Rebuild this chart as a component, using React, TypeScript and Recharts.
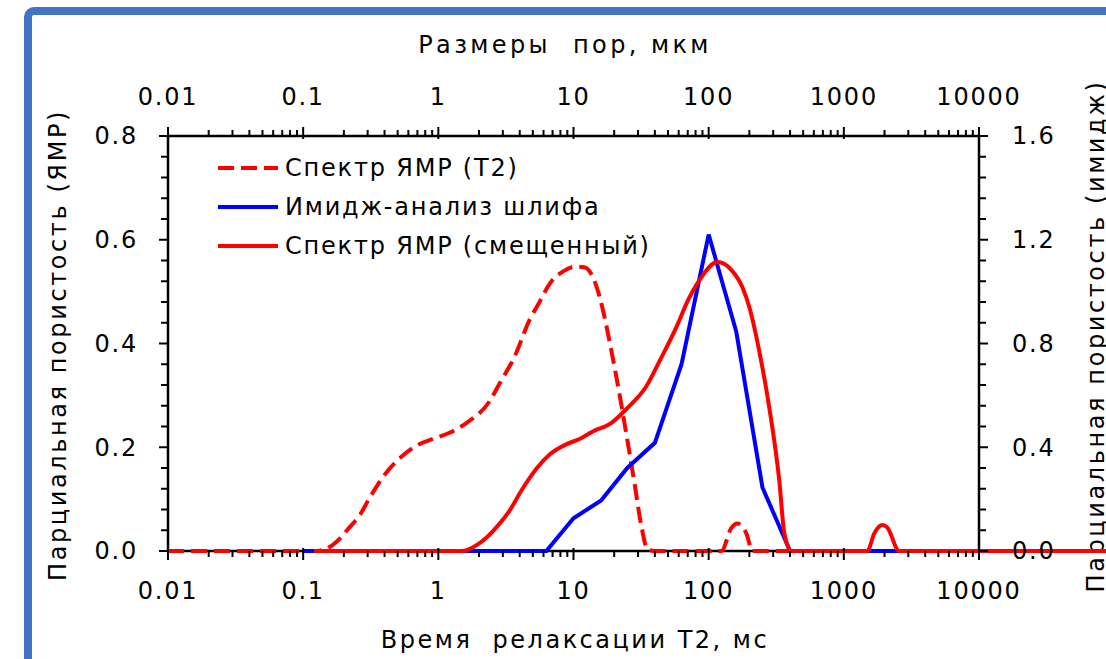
import React from 'react';
import { LineChart, Line, XAxis, YAxis, Label, ReferenceLine } from 'recharts';

// Спектр ЯМР (T2), время релаксации, мс
const t2Times = [0.01, 0.05, 0.1, 0.126, 0.166, 0.221, 0.262, 0.311, 0.388, 0.546, 0.69, 0.91, 1.21, 1.62, 2.4, 2.84, 3.67, 4.74, 5.61, 6.66, 8.5, 10.2, 12, 13.8, 15.6, 19.1, 21.9, 25.1, 28.3, 31.9, 35.3, 40, 124, 147, 163, 190, 211, 1000, 10000];
const t2Values = [0, 0, 0, 0, 0.012, 0.046, 0.069, 0.103, 0.142, 0.184, 0.203, 0.216, 0.228, 0.247, 0.289, 0.323, 0.375, 0.446, 0.48, 0.515, 0.54, 0.548, 0.547, 0.53, 0.49, 0.385, 0.302, 0.212, 0.13, 0.046, 0.003, 0, 0, 0.044, 0.053, 0.034, 0, 0, 0];

// Имидж-анализ шлифа, размер пор, мкм (правая ось)
const imageSizes = [0.1, 1, 6.3, 10, 16, 25, 40, 63, 100, 160, 250, 400, 1000, 10000];
const imageValues = [0, 0, 0, 0.126, 0.195, 0.32, 0.417, 0.72, 1.22, 0.846, 0.245, 0, 0, 0];

// Спектр ЯМР (смещенный), размер пор, мкм
const shiftedSizes = [0.12, 1, 1.5, 2.02, 2.7, 3.37, 4.13, 5.33, 6.66, 8.9, 11.1, 13.8, 19.1, 24.7, 34.7, 43.3, 58.7, 68.5, 85.5, 116, 147, 178, 200, 237, 281, 333, 363, 409, 1000, 1493, 1680, 1930, 2090, 2570, 10000];
const shiftedValues = [0, 0, 0, 0.015, 0.046, 0.078, 0.117, 0.159, 0.186, 0.206, 0.216, 0.23, 0.247, 0.274, 0.318, 0.366, 0.436, 0.477, 0.522, 0.557, 0.542, 0.508, 0.47, 0.385, 0.276, 0.136, 0.034, 0, 0, 0, 0.034, 0.05, 0.046, 0, 0];

const xMajorTicks = [0.01, 0.1, 1, 10, 100, 1000, 10000];
const leftTicks = [0, 0.04, 0.08, 0.12, 0.16, 0.2, 0.24, 0.28, 0.32, 0.36, 0.4, 0.44, 0.48, 0.52, 0.56, 0.6, 0.64, 0.68, 0.72, 0.76, 0.8];
const rightTicks = [0, 0.08, 0.16, 0.24, 0.32, 0.4, 0.48, 0.56, 0.64, 0.72, 0.8, 0.88, 0.96, 1.04, 1.12, 1.2, 1.28, 1.36, 1.44, 1.52, 1.6];

const legendItems = [
  { name: 'Спектр ЯМР (T2)', color: '#ff0000', dashed: true },
  { name: 'Имидж-анализ шлифа', color: '#0000ff', dashed: false },
  { name: 'Спектр ЯМР (смещенный)', color: '#ff0000', dashed: false },
];

const toPoints = (xs: number[], ys: number[]) => xs.map((x, i) => ({ x, y: ys[i] }));
const t2Data = toPoints(t2Times, t2Values);
const imageData = toPoints(imageSizes, imageValues);
const shiftedData = toPoints(shiftedSizes, shiftedValues);

const xTicks: number[] = [];
xMajorTicks.forEach((m, i) => {
  xTicks.push(m);
  if (i < xMajorTicks.length - 1) {
    for (let k = 2; k <= 9; k++) xTicks.push(+(m * k).toPrecision(3));
  }
});

const FONT = '"DejaVu Sans", sans-serif';
const textStyle = { fontFamily: FONT, fontSize: 24, letterSpacing: 1.8, fill: '#000' } as const;

const isDecade = (v: number) => Math.abs(Math.log10(v) - Math.round(Math.log10(v))) < 1e-6;
const isStep = (v: number, step: number) => Math.abs(v / step - Math.round(v / step)) < 1e-6;

const BottomTick = (props: any) => {
  const { x, y, payload } = props;
  const major = isDecade(payload.value);
  return (
    <g>
      <line x1={x} x2={x} y1={major ? y - 3 : y} y2={y + (major ? 9 : 6)} stroke="#000" strokeWidth={2} />
      {major && (
        <text x={x} y={y + 40} dy="0.35em" textAnchor="middle" style={textStyle}>
          {String(payload.value)}
        </text>
      )}
    </g>
  );
};

const TopTick = (props: any) => {
  const { x, y, payload } = props;
  const major = isDecade(payload.value);
  return (
    <g>
      <line x1={x} x2={x} y1={major ? y + 3 : y} y2={y - (major ? 9 : 6)} stroke="#000" strokeWidth={2} />
      {major && (
        <text x={x} y={y - 39} dy="0.35em" textAnchor="middle" style={textStyle}>
          {String(payload.value)}
        </text>
      )}
    </g>
  );
};

const LeftTick = (props: any) => {
  const { x, y, payload } = props;
  const major = isStep(payload.value, 0.2);
  return (
    <g>
      <line x1={x} x2={x - (major ? 9 : 7)} y1={y} y2={y} stroke="#000" strokeWidth={2} />
      {major && (
        <text x={x - 30} y={y} dy="0.35em" textAnchor="end" style={textStyle}>
          {payload.value.toFixed(1)}
        </text>
      )}
    </g>
  );
};

const RightTick = (props: any) => {
  const { x, y, payload } = props;
  const major = isStep(payload.value, 0.4);
  return (
    <g>
      <line x1={x} x2={x + (major ? 9 : 7)} y1={y} y2={y} stroke="#000" strokeWidth={2} />
      {major && (
        <text x={x + 33} y={y} dy="0.35em" textAnchor="start" style={textStyle}>
          {payload.value.toFixed(1)}
        </text>
      )}
    </g>
  );
};

const ChartLegend = () => (
  <div
    style={{
      position: 'absolute',
      left: 216,
      top: 148,
      fontFamily: FONT,
      fontSize: 24,
      letterSpacing: 1.8,
      color: '#000',
    }}
  >
    {legendItems.map((item) => (
      <div key={item.name} style={{ display: 'flex', alignItems: 'center', height: 39 }}>
        <svg width={69} height={10}>
          <line
            x1={2}
            x2={62}
            y1={5}
            y2={5}
            stroke={item.color}
            strokeWidth={4}
            strokeDasharray={item.dashed ? '16 7' : undefined}
          />
        </svg>
        <span style={{ whiteSpace: 'pre' }}>{item.name}</span>
      </div>
    ))}
  </div>
);

const axisLine = { stroke: '#000', strokeWidth: 2.5 };

export default function App() {
  return (
    <div style={{ position: 'fixed', left: 0, top: 0, width: 1106, height: 659, overflow: 'hidden', background: '#fff' }}>
      <div
        style={{
          position: 'absolute',
          left: 24,
          top: 7,
          width: 1200,
          height: 800,
          border: '8px solid #4472C4',
          borderRadius: 10,
        }}
      />
      <LineChart
        width={1106}
        height={659}
        margin={{ top: 0, right: 0, bottom: 0, left: 0 }}
        style={{ position: 'absolute', left: 0, top: 0 }}
      >
        <XAxis
          xAxisId="bottom"
          dataKey="x"
          type="number"
          scale="log"
          domain={[0.01, 10000]}
          ticks={xTicks}
          interval={0}
          tickSize={0}
          tickMargin={0}
          tick={<BottomTick />}
          axisLine={axisLine}
          tickLine={false}
          height={108}
        >
          <Label
            content={() => (
              <text
                x={575}
                y={640}
                dy="0.35em"
                textAnchor="middle"
                style={{ ...textStyle, letterSpacing: 2.5, whiteSpace: 'pre' }}
              >
                {'Время  релаксации Т2, мс'}
              </text>
            )}
          />
        </XAxis>
        <XAxis
          xAxisId="top"
          orientation="top"
          dataKey="x"
          type="number"
          scale="log"
          domain={[0.01, 10000]}
          ticks={xTicks}
          interval={0}
          tickSize={0}
          tickMargin={0}
          tick={<TopTick />}
          axisLine={axisLine}
          tickLine={false}
          height={136}
        >
          <Label
            content={() => (
              <text
                x={565}
                y={45}
                dy="0.35em"
                textAnchor="middle"
                style={{ ...textStyle, letterSpacing: 3.4, whiteSpace: 'pre' }}
              >
                {'Размеры  пор, мкм'}
              </text>
            )}
          />
        </XAxis>
        <YAxis
          yAxisId="left"
          type="number"
          domain={[0, 0.8]}
          ticks={leftTicks}
          interval={0}
          tickSize={0}
          tickMargin={0}
          tick={<LeftTick />}
          axisLine={axisLine}
          tickLine={false}
          width={168}
        >
          <Label
            content={() => (
              <text
                x={58}
                y={345}
                dy="0.35em"
                textAnchor="middle"
                transform="rotate(-90 58 345)"
                style={{ ...textStyle, letterSpacing: 2.6 }}
              >
                Парциальная пористость (ЯМР)
              </text>
            )}
          />
        </YAxis>
        <YAxis
          yAxisId="right"
          orientation="right"
          type="number"
          domain={[0, 1.6]}
          ticks={rightTicks}
          interval={0}
          tickSize={0}
          tickMargin={0}
          tick={<RightTick />}
          axisLine={axisLine}
          tickLine={false}
          width={127}
        >
          <Label
            content={() => (
              <text
                x={1096}
                y={336}
                dy="0.35em"
                textAnchor="middle"
                transform="rotate(-90 1096 336)"
                style={{ ...textStyle, letterSpacing: 2.6 }}
              >
                Парциальная пористость (имидж)
              </text>
            )}
          />
        </YAxis>
        <Line
          xAxisId="bottom"
          yAxisId="left"
          data={t2Data}
          dataKey="y"
          type="monotone"
          stroke="#ff0000"
          strokeWidth={4}
          strokeDasharray="16 7"
          dot={false}
          isAnimationActive={false}
          zIndex={600}
        />
        <Line
          xAxisId="top"
          yAxisId="right"
          data={imageData}
          dataKey="y"
          type="linear"
          stroke="#0000ff"
          strokeWidth={4}
          dot={false}
          isAnimationActive={false}
          zIndex={610}
        />
        <Line
          xAxisId="top"
          yAxisId="left"
          data={shiftedData}
          dataKey="y"
          type="monotone"
          stroke="#ff0000"
          strokeWidth={4}
          dot={false}
          isAnimationActive={false}
          zIndex={620}
        />
        <ReferenceLine
          xAxisId="top"
          yAxisId="left"
          segment={[{ x: 10000, y: 0 }, { x: 100000, y: 0 }]}
          ifOverflow="visible"
          stroke="#ff0000"
          strokeWidth={4}
          zIndex={620}
        />
      </LineChart>
      <ChartLegend />
    </div>
  );
}
